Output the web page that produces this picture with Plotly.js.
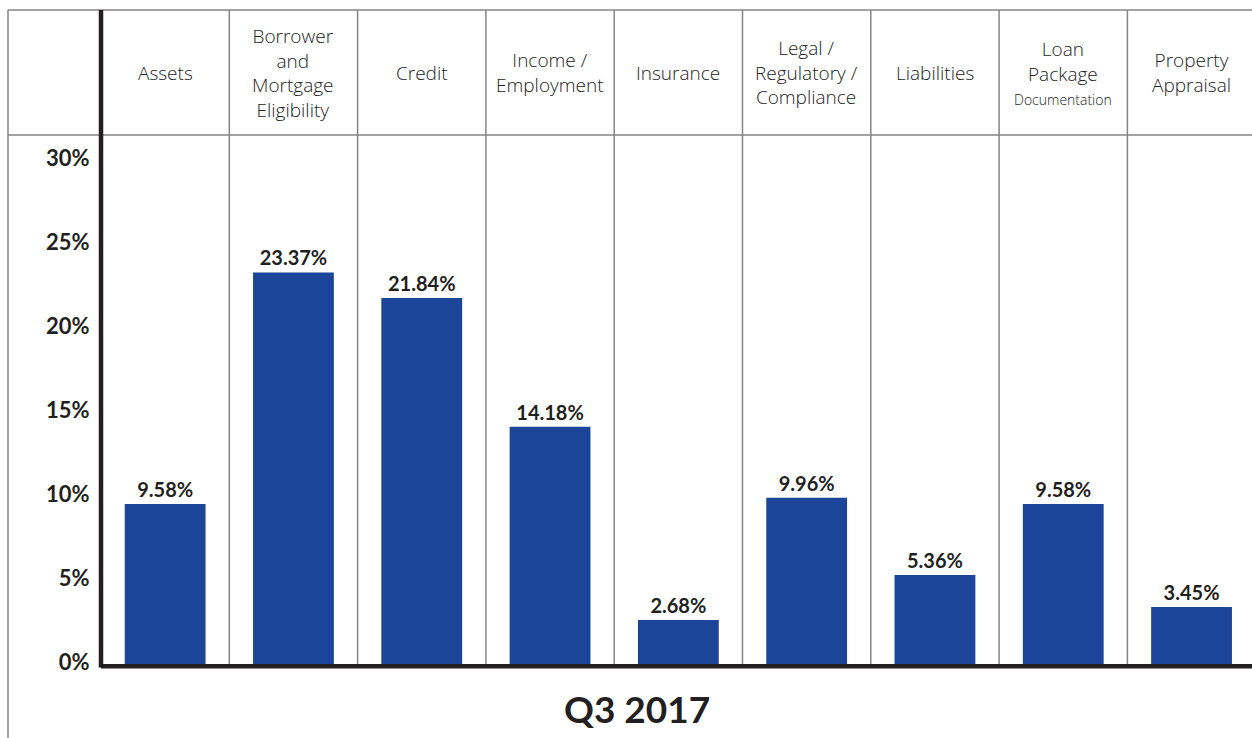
<!DOCTYPE html>
<html>
<head>
<meta charset="utf-8">
<script src="https://cdn.plot.ly/plotly-3.0.1.min.js"></script>
<style>html,body{margin:0;padding:0;background:#fff;}#chart{width:1252px;height:738px;}</style>
</head>
<body>
<div id="chart"></div>
<script>
const categories = ["Assets", "Borrower and Mortgage Eligibility", "Credit", "Income / Employment", "Insurance", "Legal / Regulatory / Compliance", "Liabilities", "Loan Package Documentation", "Property Appraisal"];
const headerLabels = ["Assets", "Borrower<br>and<br>Mortgage<br>Eligibility", "Credit", "Income /<br>Employment", "Insurance", "Legal /<br>Regulatory /<br>Compliance", "Liabilities", "Loan<br>Package<br><span style='font-size:14px'>Documentation</span>", "Property<br>Appraisal"];
const values = [9.58, 23.37, 21.84, 14.18, 2.68, 9.96, 5.36, 9.58, 3.45];
const tickValues = [0, 5, 10, 15, 20, 25, 30];
const tickLabels = ["0%", "5%", "10%", "15%", "20%", "25%", "30%"];
const xTitle = "Q3 2017";

const W = 1252, H = 738;
const mL = 101, mR = 0, mT = 10, mB = 73;
const plotW = W - mL - mR, plotH = H - mT - mB;
const headerBottomPx = 135;
const yDomTop = (H - mB - headerBottomPx) / plotH;
const leftPaperX = (8 - mL) / plotW;
const bottomPaperY = (H - mB - 738) / plotH;
const cellPx = 128.3;
const gray = "#858585";
const dark = "#231f20";

const shapes = [];
for (let i = 0; i < categories.length - 1; i++) {
  shapes.push({type: "line", xref: "x", yref: "paper", x0: i + 0.5, x1: i + 0.5, y0: 0, y1: 1, line: {color: gray, width: 1.5}});
}
shapes.push({type: "line", xref: "paper", yref: "paper", x0: leftPaperX, x1: 1, y0: 1, y1: 1, line: {color: gray, width: 1.5}});
shapes.push({type: "line", xref: "paper", yref: "paper", x0: leftPaperX, x1: 1, y0: yDomTop, y1: yDomTop, line: {color: gray, width: 1.5}});
shapes.push({type: "line", xref: "paper", yref: "paper", x0: leftPaperX, x1: leftPaperX, y0: 1, y1: bottomPaperY, line: {color: gray, width: 1.5}});
shapes.push({type: "line", xref: "paper", yref: "paper", x0: 0, x1: 0, y0: 1, y1: -0.004, line: {color: dark, width: 4.5}});
shapes.push({type: "line", xref: "paper", yref: "paper", x0: 0, x1: 1, y0: -0.002, y1: -0.002, line: {color: dark, width: 4.5}});

const annotations = headerLabels.map((t, i) => ({
  x: i, xref: "x", y: (yDomTop + 1) / 2, yref: "paper", text: t, showarrow: false,
  xanchor: "center", yanchor: "middle", align: "center",
  font: {family: "'Open Sans', Lato, sans-serif", size: 19, color: "#222222", weight: 300}
}));
annotations.push({
  x: (637 - mL) / plotW, xref: "paper", y: (H - mB - 708) / plotH, yref: "paper",
  text: "<b>" + xTitle + "</b>", showarrow: false, xanchor: "center", yanchor: "middle",
  font: {family: "Lato, 'Liberation Sans', sans-serif", size: 37, color: dark}
});

const trace = {
  type: "bar", x: categories.map((c, i) => i), y: values,
  marker: {color: "#1c4599", line: {width: 0}},
  width: 0.63,
  text: values.map(v => v.toFixed(2) + "%"),
  textposition: "outside", cliponaxis: false,
  textfont: {family: "Lato, 'Liberation Sans', sans-serif", size: 20, color: dark, weight: 700},
  hoverinfo: "none"
};

const layout = {
  width: W, height: H,
  margin: {l: mL, r: mR, t: mT, b: mB, pad: 0},
  paper_bgcolor: "#fff", plot_bgcolor: "#fff",
  showlegend: false,
  xaxis: {range: [-0.5, -0.5 + plotW / cellPx], showticklabels: false, showgrid: false, zeroline: false, showline: false, ticks: ""},
  yaxis: {domain: [0, yDomTop], range: [0, 31.55], tickvals: tickValues, ticktext: tickLabels,
    showgrid: false, zeroline: false, showline: false, ticks: "outside", ticklen: 6, tickcolor: "rgba(0,0,0,0)",
    ticklabelshift: -3,
    tickfont: {family: "Lato, 'Liberation Sans', sans-serif", size: 22, color: dark, weight: 700}},
  shapes: shapes,
  annotations: annotations
};

Plotly.newPlot("chart", [trace], layout, {displayModeBar: false, staticPlot: true});
</script>
</body>
</html>
